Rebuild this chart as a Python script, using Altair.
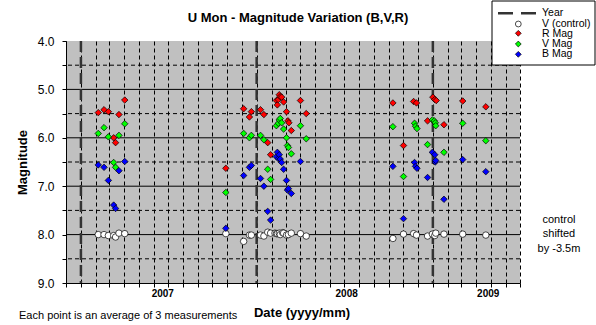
import altair as alt
import pandas as pd

FONT = "Liberation Sans"

# ---------------- data ----------------
r_dates = ["2007-02-06","2007-02-18","2007-02-27","2007-03-10","2007-03-14","2007-03-21","2007-04-02",
           "2007-10-29","2007-12-05","2007-12-17","2007-12-21","2008-01-09","2008-01-16","2008-01-24","2008-01-30",
           "2008-02-11","2008-02-13","2008-02-15","2008-02-17","2008-02-19","2008-02-22","2008-02-26","2008-03-03",
           "2008-03-06","2008-03-08","2008-03-13","2008-04-01","2008-04-13",
           "2008-10-10","2008-11-01","2008-11-22","2008-11-28","2008-12-21","2009-01-01","2009-01-05","2009-01-08",
           "2009-01-24","2009-03-04","2009-04-21"]
r_mags = [5.48,5.42,5.46,6.00,6.10,5.52,5.22,
          6.63,5.40,5.57,5.46,5.42,5.52,6.10,6.35,
          5.23,5.32,5.21,5.11,5.15,5.16,5.26,5.46,5.65,5.69,5.85,5.23,5.50,
          5.28,6.16,5.25,5.28,5.65,5.16,5.21,5.23,5.73,5.24,5.36]

v_dates = ["2007-02-06","2007-02-18","2007-02-27","2007-03-10","2007-03-14","2007-03-21","2007-04-02",
           "2007-10-29","2007-12-05","2007-12-17","2007-12-21","2008-01-09","2008-01-16","2008-01-24","2008-01-30",
           "2008-02-11","2008-02-15","2008-02-17","2008-02-19","2008-02-22","2008-02-26","2008-03-03","2008-03-05",
           "2008-03-07","2008-03-13","2008-04-01","2008-04-13",
           "2008-10-10","2008-11-01","2008-11-24","2008-11-26","2008-11-29","2008-12-21","2008-12-31","2009-01-04",
           "2009-01-06","2009-01-07","2009-01-24","2009-03-04","2009-04-21"]
v_mags = [5.91,5.79,5.98,6.51,6.61,5.95,5.71,
          7.13,5.91,6.00,5.95,5.95,6.04,6.65,6.86,
          5.75,5.70,5.63,5.60,5.69,5.82,6.00,6.16,6.20,6.33,5.75,6.02,
          5.77,6.80,5.70,5.76,5.81,6.14,5.63,5.65,5.69,5.75,6.30,5.70,6.06]

b_dates = ["2007-02-06","2007-02-18","2007-02-27","2007-03-10","2007-03-14","2007-03-21","2007-04-02",
           "2007-10-29","2007-12-05","2007-12-17","2007-12-21","2008-01-09","2008-01-16","2008-01-24","2008-01-30",
           "2008-02-11","2008-02-13","2008-02-15","2008-02-17","2008-02-19","2008-02-22","2008-02-26","2008-03-03",
           "2008-03-05","2008-03-07","2008-03-13","2008-04-01",
           "2008-10-10","2008-11-01","2008-11-24","2008-11-26","2008-11-29","2008-12-21","2008-12-31","2009-01-05",
           "2009-01-06","2009-01-07","2009-01-24","2009-03-04","2009-04-21"]
b_mags = [6.56,6.61,6.88,7.39,7.46,6.68,6.49,
          7.87,6.78,6.61,6.57,6.84,7.00,7.52,7.70,
          6.39,6.30,6.43,6.35,6.44,6.51,6.65,6.88,7.08,7.05,7.15,6.49,
          6.59,7.67,6.51,6.59,6.63,6.82,6.30,6.35,6.50,6.47,7.27,6.45,6.70]

c_dates = ["2007-02-06","2007-02-18","2007-02-27","2007-03-10","2007-03-14","2007-03-21","2007-04-02",
           "2007-10-29","2007-12-05","2007-12-17","2007-12-21","2008-01-09","2008-01-16","2008-01-24","2008-01-30",
           "2008-02-08","2008-02-11","2008-02-13","2008-02-17","2008-02-19","2008-02-24","2008-02-26","2008-03-03",
           "2008-03-07","2008-03-13","2008-04-01","2008-04-13",
           "2008-10-10","2008-11-01","2008-11-22","2008-11-28","2008-12-21","2008-12-31","2009-01-05","2009-01-07",
           "2009-01-24","2009-03-04","2009-04-21"]
c_mags = [8.00,8.00,8.02,8.02,8.05,7.97,7.98,
          7.98,8.14,8.01,8.01,8.01,8.03,7.95,7.97,
          7.97,7.98,7.98,7.97,8.00,7.96,7.97,8.01,8.00,7.97,7.98,8.03,
          8.08,7.99,7.98,8.01,8.03,7.99,8.02,7.97,7.99,7.99,8.01]

series_names = ["Year", "V (control)", "R Mag", "V Mag", "B Mag"]
series_fill = ["#333333", "#ffffff", "#ff0000", "#00ff00", "#0000ff"]
series_shape = ["stroke", "circle", "diamond", "diamond", "diamond"]

year_line_dates = ["2007-01-01", "2008-01-01", "2009-01-01"]
year_labels = ["2007", "2008", "2009"]
year_label_dates = ["2007-06-20", "2008-07-06", "2009-04-26"]

domain_start = "2006-12-01"
domain_end = "2009-07-01"
mag_solid = [5, 6, 7, 8]
mag_dashed = [4.5, 5.5, 6.5, 7.5, 8.5]
mag_ticks = [4, 4.5, 5, 5.5, 6, 6.5, 7, 7.5, 8, 8.5, 9]

# ---------------- frames ----------------
base = pd.Timestamp(domain_start)


def days(dates):
    return [(pd.Timestamp(d) - base).days for d in dates]


def frame(dates, mags, name):
    return pd.DataFrame({"day": days(dates), "mag": mags, "series": name})


points = pd.concat([
    frame(c_dates, c_mags, "V (control)"),
    frame(r_dates, r_mags, "R Mag"),
    frame(v_dates, v_mags, "V Mag"),
    frame(b_dates, b_mags, "B Mag"),
], ignore_index=True)

month_days = days(pd.date_range(domain_start, domain_end, freq="MS"))
end_day = (pd.Timestamp(domain_end) - base).days

years_df = pd.DataFrame({"day": days(year_line_dates)})
ylab_df = pd.DataFrame({"day": days(year_label_dates), "label": year_labels})
solid_df = pd.DataFrame({"mag": mag_solid})
dashed_df = pd.DataFrame({"mag": mag_dashed})

legend_df = pd.DataFrame({
    "series": series_names[1:],
    "lx": [452.3] * 4,
    "ly": [-17.0, -7.7, 3.0, 13.3],
})
legend_text_df = pd.DataFrame({
    "series": series_names,
    "lx": [476.0] * 5,
    "ly": [-27.7, -17.3, -7.3, 3.0, 13.3],
})

# ---------------- encodings ----------------
x_scale = alt.Scale(domain=[0, end_day], nice=False, zero=False)
y_scale = alt.Scale(domain=[4, 9], reverse=True, nice=False, zero=False)

X = alt.X("day:Q", scale=x_scale, axis=alt.Axis(
    values=month_days, labels=False, tickSize=4, tickColor="black",
    domainColor="black", grid=True, gridColor="black", gridDash=[4, 3],
    gridOpacity=1, gridWidth=1,
    title="Date (yyyy/mm)", titleFont=FONT, titleFontSize=13, titleFontWeight="bold",
    titleColor="black", titleX=235.5, titleY=29, titleBaseline="middle", titleAlign="center",
))
Y = alt.Y("mag:Q", scale=y_scale, axis=alt.Axis(
    values=mag_ticks,
    labelExpr="datum.value % 1 == 0 ? format(datum.value, '.1f') : ''",
    labelFont=FONT, labelFontSize=12, labelColor="black", labelPadding=8,
    tickSize=4, tickColor="black", domainColor="black", grid=False,
    title="Magnitude", titleFont=FONT, titleFontSize=13, titleFontWeight="bold",
    titleColor="black", titleX=-44, titleY=121, titleBaseline="middle", titleAlign="center",
))

fill_scale = alt.Scale(domain=series_names, range=series_fill)
shape_scale = alt.Scale(domain=series_names, range=series_shape)

# ---------------- layers ----------------
dashed = alt.Chart(dashed_df).mark_rule(color="black", strokeWidth=1, strokeDash=[4, 3]).encode(y=Y)
solid = alt.Chart(solid_df).mark_rule(color="black", strokeWidth=1).encode(y=Y)
year_rules = alt.Chart(years_df).mark_rule(color="#333333", strokeWidth=2.5, strokeDash=[11, 5]).encode(x=X)

pts = alt.Chart(points).mark_point(filled=True, size=42, stroke="black", strokeWidth=0.7, opacity=1).encode(
    x=X, y=Y,
    fill=alt.Fill("series:N", scale=fill_scale, legend=None),
    shape=alt.Shape("series:N", scale=shape_scale, legend=None),
)

year_text = alt.Chart(ylab_df).mark_text(font=FONT, fontSize=10, fontWeight="bold", color="black",
                                         baseline="middle", align="center").encode(
    x=X, y=alt.value(253), text="label:N")

title = alt.Chart(pd.DataFrame({"t": ["U Mon - Magnitude Variation (B,V,R)"]})).mark_text(
    font=FONT, fontSize=13, fontWeight="bold", color="black", align="center", baseline="middle").encode(
    x=alt.value(232), y=alt.value(-23), text="t:N")

note = alt.Chart(pd.DataFrame({"t": ["Each point is an average of 3 measurements"]})).mark_text(
    font=FONT, fontSize=11, color="black", align="left", baseline="middle").encode(
    x=alt.value(-47), y=alt.value(275), text="t:N")

ctrl = alt.Chart(pd.DataFrame({"t": ["control\nshifted\nby -3.5m"]})).mark_text(
    font=FONT, fontSize=11, color="black", align="center", baseline="top", lineBreak="\n",
    lineHeight=14.5).encode(
    x=alt.value(493), y=alt.value(172.5), text="t:N")

legend_box = alt.Chart(pd.DataFrame({"a": [0]})).mark_rect(fill="white", stroke="black", strokeWidth=1).encode(
    x=alt.value(426), x2=alt.value(529), y=alt.value(-40), y2=alt.value(24))
legend_line = alt.Chart(pd.DataFrame({"a": [0]})).mark_rule(color="#333333", strokeWidth=2.5,
                                                          strokeDash=[15, 8]).encode(
    x=alt.value(432), x2=alt.value(470), y=alt.value(-27.7))
legend_pts = alt.Chart(legend_df).mark_point(filled=True, size=34, stroke="black", strokeWidth=0.7,
                                             opacity=1).encode(
    x=alt.X("lx:Q", scale=None), y=alt.Y("ly:Q", scale=None),
    fill=alt.Fill("series:N", scale=fill_scale, legend=None),
    shape=alt.Shape("series:N", scale=shape_scale, legend=None),
)
legend_txt = alt.Chart(legend_text_df).mark_text(font=FONT, fontSize=10.5, color="black", align="left",
                                                 baseline="middle").encode(
    x=alt.X("lx:Q", scale=None), y=alt.Y("ly:Q", scale=None), text="series:N")

chart = alt.layer(
    dashed, solid, year_rules, pts, year_text, title, note, ctrl,
    legend_box, legend_line, legend_pts, legend_txt,
).resolve_scale(x="shared", y="shared").properties(
    width=454, height=242,
    autosize=alt.AutoSizeParams(type="none"),
    padding={"left": 66, "top": 41, "right": 76, "bottom": 42},
    background="white",
).configure_view(fill="#c0c0c0", stroke=None)

chart.save("out.html", embed_options={"renderer": "svg", "actions": False})
